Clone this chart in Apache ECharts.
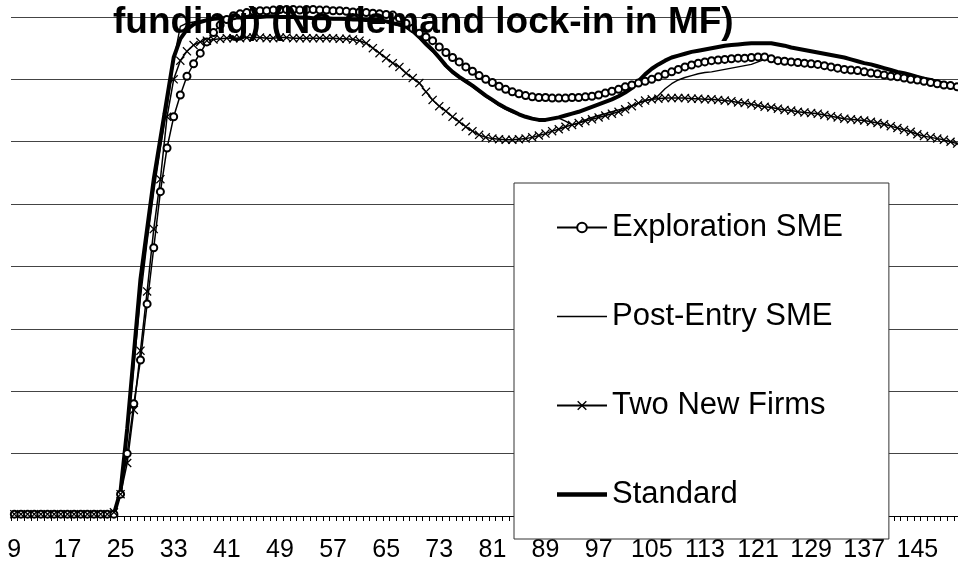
<!DOCTYPE html>
<html>
<head>
<meta charset="utf-8">
<title>funding (No demand lock-in in MF)</title>
<script src="https://cdn.jsdelivr.net/npm/echarts@6/dist/echarts.min.js"></script>
<style>
  html, body { margin: 0; padding: 0; background: #fff; }
  #chart { width: 958px; height: 568px; }
</style>
</head>
<body>
<div id="chart"></div>
<script>
// periods shown on the x axis (the visible part starts at 9)
const periods = [];
for (let p = 9; p <= 151; p++) periods.push(String(p));

// values, one per period (p9 .. p151)
const explorationSME = [
  0.03, 0.03, 0.03, 0.03, 0.03, 0.03, 0.03, 0.03, 0.03, 0.03, 0.03, 0.03, 0.03, 0.03, 0.03, 0.03,
  0.35, 1.0, 1.8, 2.5, 3.4, 4.3, 5.2, 5.9, 6.4, 6.75,
  7.05, 7.25, 7.42, 7.6, 7.75, 7.87, 7.96, 8.02, 8.05, 8.07,
  8.09, 8.1, 8.1, 8.11, 8.12, 8.12, 8.12, 8.11, 8.12, 8.12,
  8.11, 8.11, 8.1, 8.1, 8.09, 8.08, 8.08, 8.07, 8.06, 8.05,
  8.04, 8.03, 7.98, 7.9, 7.82, 7.74, 7.68, 7.62, 7.52, 7.43,
  7.35, 7.28, 7.2, 7.13, 7.06, 7.0, 6.95, 6.89, 6.84, 6.8,
  6.77, 6.74, 6.72, 6.71, 6.71, 6.7, 6.7, 6.7, 6.71, 6.71,
  6.72, 6.73, 6.75, 6.78, 6.81, 6.84, 6.88, 6.91, 6.94, 6.97,
  7.0, 7.04, 7.08, 7.12, 7.16, 7.2, 7.23, 7.26, 7.28, 7.3,
  7.31, 7.32, 7.33, 7.34, 7.34, 7.35, 7.36, 7.36, 7.33, 7.3,
  7.29, 7.28, 7.27, 7.26, 7.25, 7.24, 7.22, 7.2, 7.18, 7.16,
  7.15, 7.14, 7.12, 7.1, 7.09, 7.07, 7.05, 7.04, 7.02, 7.0,
  6.99, 6.97, 6.95, 6.93, 6.91, 6.9, 6.88
];
const postEntrySME = [
  0.03, 0.03, 0.03, 0.03, 0.03, 0.03, 0.03, 0.03, 0.03, 0.03, 0.03, 0.03, 0.03, 0.03, 0.03, 0.03,
  0.45, 1.3, 2.4, 3.5, 4.4, 5.2, 5.9, 6.55, 7.3, 7.85,
  7.9, 7.92, 7.94, 7.95, 7.96, 7.97, 7.97, 7.98, 7.98, 7.98,
  7.99, 7.99, 7.99, 7.99, 7.99, 7.98, 7.98, 7.98, 7.97, 7.97,
  7.97, 7.96, 7.96, 7.96, 7.95, 7.95, 7.95, 7.94, 7.94, 7.94,
  7.92, 7.89, 7.86, 7.82, 7.75, 7.65, 7.54, 7.44, 7.32, 7.2,
  7.1, 7.02, 6.95, 6.88, 6.8, 6.72, 6.65, 6.58, 6.52, 6.47,
  6.43, 6.39, 6.36, 6.34, 6.35, 6.37, 6.38, 6.33, 6.27, 6.3,
  6.35, 6.39, 6.42, 6.45, 6.48, 6.51, 6.54, 6.58, 6.62, 6.66,
  6.68, 6.74, 6.85, 6.93, 6.99, 7.03, 7.06, 7.09, 7.11, 7.12,
  7.14, 7.16, 7.18, 7.2, 7.22, 7.24, 7.28, 7.32, 7.34, 7.31,
  7.29, 7.28, 7.27, 7.26, 7.25, 7.24, 7.22, 7.2, 7.18, 7.16,
  7.15, 7.14, 7.12, 7.1, 7.09, 7.07, 7.05, 7.04, 7.02, 7.0,
  6.99, 6.97, 6.95, 6.93, 6.91, 6.9, 6.88
];
const twoNewFirms = [
  0.03, 0.03, 0.03, 0.03, 0.03, 0.03, 0.03, 0.03, 0.03, 0.03, 0.03, 0.03, 0.03, 0.03, 0.03, 0.06,
  0.35, 0.85, 1.7, 2.65, 3.6, 4.6, 5.4, 6.4, 7.0, 7.3,
  7.45, 7.55, 7.6, 7.62, 7.64, 7.65, 7.66, 7.66, 7.66, 7.67,
  7.67, 7.67, 7.66, 7.66, 7.67, 7.67, 7.66, 7.66, 7.66, 7.66,
  7.66, 7.66, 7.66, 7.65, 7.65, 7.64, 7.62, 7.58, 7.5, 7.42,
  7.34, 7.26, 7.2, 7.1, 7.02, 6.94, 6.8, 6.67, 6.57, 6.49,
  6.4, 6.32, 6.24, 6.17, 6.11, 6.07, 6.05, 6.04, 6.03, 6.03,
  6.04, 6.05, 6.07, 6.1, 6.13, 6.17, 6.2, 6.24, 6.27, 6.3,
  6.33, 6.36, 6.39, 6.42, 6.45, 6.48, 6.52, 6.57, 6.62, 6.66,
  6.68, 6.69, 6.7, 6.7, 6.7, 6.7, 6.69, 6.69, 6.68, 6.68,
  6.67, 6.66, 6.65, 6.63, 6.62, 6.6, 6.58, 6.56, 6.55, 6.53,
  6.51, 6.5, 6.48, 6.47, 6.46, 6.45, 6.43, 6.41, 6.39, 6.37,
  6.36, 6.35, 6.34, 6.32, 6.3, 6.28, 6.25, 6.22, 6.19, 6.16,
  6.12, 6.09, 6.07, 6.05, 6.03, 6.0, 5.97
];
const standard = [
  0.03, 0.03, 0.03, 0.03, 0.03, 0.03, 0.03, 0.03, 0.03, 0.03, 0.03, 0.03, 0.03, 0.03, 0.03, 0.03,
  0.4, 1.4, 2.6, 3.8, 4.6, 5.4, 6.05, 6.7, 7.35, 7.65,
  7.8, 7.88, 7.92, 7.95, 7.97, 7.98, 7.98, 7.99, 7.99, 8.0,
  8.0, 8.0, 8.01, 8.01, 8.0, 8.0, 8.0, 7.99, 7.99, 7.98,
  7.98, 7.98, 7.97, 7.97, 7.97, 7.96, 7.96, 7.95, 7.95, 7.95,
  7.93, 7.9, 7.88, 7.85, 7.78, 7.68, 7.57, 7.47, 7.35, 7.22,
  7.12, 7.04, 6.97, 6.9, 6.82, 6.74, 6.67, 6.6, 6.54, 6.49,
  6.44, 6.4, 6.37, 6.35, 6.35, 6.37, 6.39, 6.42, 6.45, 6.48,
  6.52, 6.56, 6.6, 6.64, 6.68, 6.73, 6.79, 6.86, 6.97, 7.08,
  7.17, 7.24, 7.3, 7.35, 7.38, 7.41, 7.44, 7.46, 7.48, 7.5,
  7.52, 7.54, 7.55, 7.56, 7.57, 7.58, 7.58, 7.58, 7.58, 7.56,
  7.54, 7.51, 7.49, 7.47, 7.45, 7.43, 7.41, 7.39, 7.37, 7.35,
  7.32, 7.29, 7.26, 7.24, 7.21, 7.18, 7.15, 7.12, 7.1, 7.07,
  7.04, 7.01, 6.99, 6.96, 6.93, 6.91, 6.89
];

const FONT = "'Liberation Sans', Arial, sans-serif";
// small filled "x" marker
const CROSS = 'path://M0,1L1,0L5,4L9,0L10,1L6,5L10,9L9,10L5,6L1,10L0,9L4,5Z';
// plain line icons for the legend (series without markers)
const THIN_LINE = 'path://M0,0H50V1.5H0Z';
const THICK_LINE = 'path://M0,0H50V4.5H0Z';

const chart = echarts.init(document.getElementById('chart'));

const option = {
  animation: false,
  backgroundColor: '#fff',
  title: {
    text: 'funding) (No demand lock-in in MF)',
    left: 113,
    top: 4,
    padding: 0,
    textStyle: { fontFamily: FONT, fontSize: 37, fontWeight: 'bold', color: '#000' }
  },
  legend: {
    orient: 'vertical',
    left: 514,
    top: 183,
    padding: [29, 46, 29, 42],
    itemGap: 58,
    itemWidth: 50,
    itemHeight: 12,
    backgroundColor: '#fff',
    borderColor: '#333',
    borderWidth: 1,
    borderRadius: 0,
    textStyle: { fontFamily: FONT, fontSize: 31, color: '#000' },
    data: [
      { name: 'Exploration SME' },
      { name: 'Post-Entry SME', icon: THIN_LINE },
      { name: 'Two New Firms' },
      { name: 'Standard', icon: THICK_LINE }
    ]
  },
  grid: {
    left: 11,
    top: -45.4,
    width: 949.5,
    height: 561.4,
    outerBoundsMode: 'none',
    containLabel: false
  },
  xAxis: {
    type: 'category',
    data: periods,
    boundaryGap: true,
    axisLine: { lineStyle: { color: '#000', width: 1 } },
    axisTick: { show: true, interval: 0, length: 5, lineStyle: { color: '#000', width: 1 } },
    axisLabel: {
      interval: 7,
      margin: 22,
      fontFamily: FONT,
      fontSize: 25,
      color: '#000'
    },
    splitLine: { show: false }
  },
  yAxis: {
    type: 'value',
    min: 0,
    max: 9,
    interval: 1,
    axisLine: { show: false },
    axisTick: { show: false },
    axisLabel: { show: false },
    splitLine: { show: true, lineStyle: { color: '#444', width: 1 } }
  },
  series: [
    {
      name: 'Exploration SME',
      type: 'line',
      data: explorationSME,
      symbol: 'emptyCircle',
      symbolSize: 7,
      showAllSymbol: true,
      lineStyle: { color: '#000', width: 1.5 },
      itemStyle: { color: '#000', borderColor: '#000', borderWidth: 1.5 }
    },
    {
      name: 'Post-Entry SME',
      type: 'line',
      data: postEntrySME,
      symbol: 'none',
      lineStyle: { color: '#000', width: 1.4 },
      itemStyle: { color: '#000' }
    },
    {
      name: 'Two New Firms',
      type: 'line',
      data: twoNewFirms,
      symbol: CROSS,
      symbolSize: 9,
      showAllSymbol: true,
      lineStyle: { color: '#000', width: 1.5 },
      itemStyle: { color: '#000' }
    },
    {
      name: 'Standard',
      type: 'line',
      data: standard,
      symbol: 'none',
      lineStyle: { color: '#000', width: 4 },
      itemStyle: { color: '#000' }
    }
  ]
};

chart.setOption(option);
window.addEventListener('resize', function () {
  chart.resize();
});
</script>
</body>
</html>
